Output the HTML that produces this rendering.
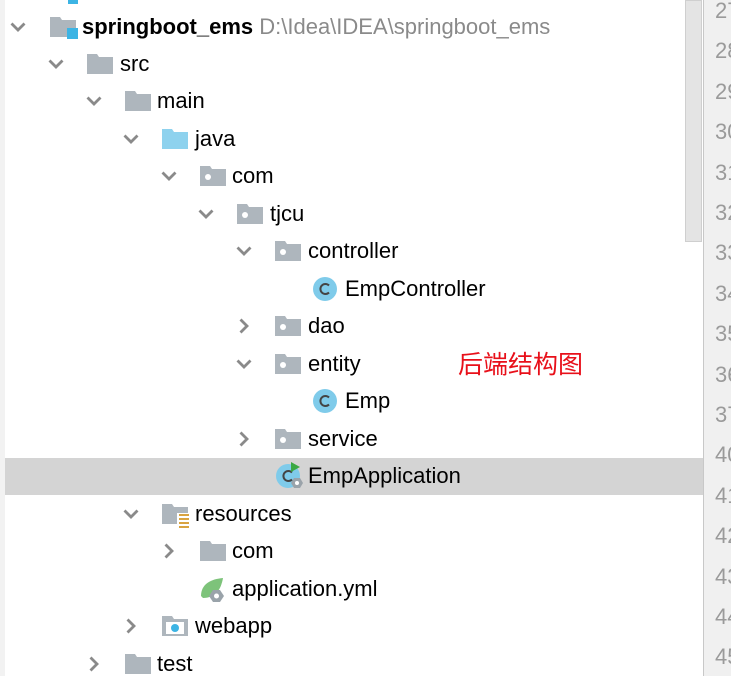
<!DOCTYPE html>
<html><head><meta charset="utf-8"><style>
body{margin:0;width:731px;height:676px;overflow:hidden;background:#fff;position:relative;font-family:"Liberation Sans","Noto Sans CJK SC",sans-serif;font-size:22px;color:#000}
.r{position:absolute;left:0;height:38px;line-height:38px;white-space:nowrap}
.t{position:absolute;top:0}
.ic{position:absolute;top:9px}
.ch{position:absolute;top:12px}
.g{position:absolute;left:703px;width:28px;top:0;height:676px;background:#f0f0f0;border-left:1px solid #c8c8c8}
.ln{position:absolute;left:715px;color:#9a9a9a;font-size:22px;line-height:22px}
</style></head><body>
<div style="position:absolute;left:0;top:0;width:5px;height:676px;background:#f2f2f2"></div>
<div style="position:absolute;left:68px;top:0;width:10px;height:4px;background:#3cb4e4"></div>
<div style="position:absolute;left:5px;top:458px;width:698px;height:37px;background:#d4d4d4"></div>
<div style="position:absolute;left:685px;top:0;width:17px;height:242px;background:#e4e4e4;border:1px solid #cfcfcf;box-sizing:border-box"></div>
<div class="g"></div>
<div class="ln" style="top:0px">27</div><div class="ln" style="top:40px">28</div><div class="ln" style="top:81px">29</div><div class="ln" style="top:121px">30</div><div class="ln" style="top:162px">31</div><div class="ln" style="top:202px">32</div><div class="ln" style="top:242px">33</div><div class="ln" style="top:283px">34</div><div class="ln" style="top:323px">35</div><div class="ln" style="top:364px">36</div><div class="ln" style="top:404px">37</div><div class="ln" style="top:444px">40</div><div class="ln" style="top:485px">41</div><div class="ln" style="top:525px">42</div><div class="ln" style="top:566px">43</div><div class="ln" style="top:606px">44</div><div class="ln" style="top:646px">45</div>

<svg width="0" height="0" style="position:absolute"><defs>
<symbol id="dn" viewBox="0 0 16 12"><polyline points="1.5,2.5 8,9 14.5,2.5" fill="none" stroke="#8a8a8a" stroke-width="2.8"/></symbol>
<symbol id="rt" viewBox="0 0 16 16"><polyline points="4.5,1.5 11,8 4.5,14.5" fill="none" stroke="#8a8a8a" stroke-width="2.8"/></symbol>
<symbol id="fd" viewBox="0 0 26 20"><path d="M0 0H10L12 3H26V20H0Z" fill="#aeb6bd"/></symbol>
<symbol id="jf" viewBox="0 0 26 20"><path d="M0 0H10L12 3H26V20H0Z" fill="#8ed2ee"/></symbol>
<symbol id="pk" viewBox="0 0 26 20"><path d="M0 0H10L12 3H26V20H0Z" fill="#aeb6bd"/><circle cx="8" cy="11" r="3" fill="#fff"/></symbol>
<symbol id="cl" viewBox="0 0 26 26"><circle cx="13" cy="13" r="12" fill="#7fcbea"/><path d="M17 9.5A5 5 0 1 0 17 16.5" fill="none" stroke="#444" stroke-width="2"/></symbol>
</defs></svg>

<div class="r" style="top:8px">
<svg class="ch" style="left:10px;top:13px" width="16" height="12"><use href="#dn"/></svg>
<svg class="ic" style="left:50px" width="30" height="22"><path d="M0 0H10L12 3H26V20H0Z" fill="#aeb6bd"/><rect x="17" y="11" width="11" height="11" fill="#3cb4e4"/></svg>
<span class="t" style="left:82px;font-weight:bold">springboot_ems <span style="font-weight:normal;color:#8a8a8a">D:\Idea\IDEA\springboot_ems</span></span></div>
<div class="r" style="top:45px"><svg class="ch" style="left:48px;top:13px" width="16" height="12"><use href="#dn"/></svg><svg class="ic" style="left:87px" width="26" height="20"><use href="#fd"/></svg><span class="t" style="left:120px">src</span></div>
<div class="r" style="top:82px"><svg class="ch" style="left:86px;top:13px" width="16" height="12"><use href="#dn"/></svg><svg class="ic" style="left:125px" width="26" height="20"><use href="#fd"/></svg><span class="t" style="left:157px">main</span></div>
<div class="r" style="top:120px"><svg class="ch" style="left:123px;top:13px" width="16" height="12"><use href="#dn"/></svg><svg class="ic" style="left:162px" width="26" height="20"><use href="#jf"/></svg><span class="t" style="left:195px">java</span></div>
<div class="r" style="top:157px"><svg class="ch" style="left:161px;top:13px" width="16" height="12"><use href="#dn"/></svg><svg class="ic" style="left:200px" width="26" height="20"><use href="#pk"/></svg><span class="t" style="left:232px">com</span></div>
<div class="r" style="top:195px"><svg class="ch" style="left:198px;top:13px" width="16" height="12"><use href="#dn"/></svg><svg class="ic" style="left:237px" width="26" height="20"><use href="#pk"/></svg><span class="t" style="left:270px">tjcu</span></div>
<div class="r" style="top:232px"><svg class="ch" style="left:236px;top:13px" width="16" height="12"><use href="#dn"/></svg><svg class="ic" style="left:275px" width="26" height="20"><use href="#pk"/></svg><span class="t" style="left:308px">controller</span></div>
<div class="r" style="top:270px"><svg class="ic" style="left:312px;top:6px" width="26" height="26"><use href="#cl"/></svg><span class="t" style="left:345px">EmpController</span></div>
<div class="r" style="top:307px"><svg class="ch" style="left:236px;top:11px" width="16" height="16"><use href="#rt"/></svg><svg class="ic" style="left:275px" width="26" height="20"><use href="#pk"/></svg><span class="t" style="left:308px">dao</span></div>
<div class="r" style="top:345px"><svg class="ch" style="left:236px;top:13px" width="16" height="12"><use href="#dn"/></svg><svg class="ic" style="left:275px" width="26" height="20"><use href="#pk"/></svg><span class="t" style="left:308px">entity</span><span class="t" style="left:458px;top:1px;color:#e8101a;font-size:25px">后端结构图</span></div>
<div class="r" style="top:382px"><svg class="ic" style="left:312px;top:6px" width="26" height="26"><use href="#cl"/></svg><span class="t" style="left:345px">Emp</span></div>
<div class="r" style="top:420px"><svg class="ch" style="left:236px;top:11px" width="16" height="16"><use href="#rt"/></svg><svg class="ic" style="left:275px" width="26" height="20"><use href="#pk"/></svg><span class="t" style="left:308px">service</span></div>
<div class="r" style="top:457px"><svg class="ic" style="left:275px;top:4px" width="30" height="30"><circle cx="13" cy="15" r="12" fill="#7fcbea"/><path d="M17 11.5A5 5 0 1 0 17 18.5" fill="none" stroke="#444" stroke-width="2"/><polygon points="16,1 16,11 25,6" fill="#3aa843"/><polygon points="19,17 25,17 28,22 25,27 19,27 16,22" fill="#9aa3aa"/><circle cx="22" cy="22" r="2" fill="#fff"/></svg><span class="t" style="left:308px">EmpApplication</span></div>
<div class="r" style="top:495px"><svg class="ch" style="left:123px;top:13px" width="16" height="12"><use href="#dn"/></svg><svg class="ic" style="left:162px" width="30" height="24"><path d="M0 0H10L12 3H26V20H0Z" fill="#aeb6bd"/><rect x="15" y="9" width="12" height="14" fill="#fff"/><g fill="#d9a441"><rect x="17" y="10" width="10" height="2"/><rect x="17" y="14" width="10" height="2"/><rect x="17" y="18" width="10" height="2"/><rect x="17" y="22" width="10" height="2"/></g></svg><span class="t" style="left:195px">resources</span></div>
<div class="r" style="top:532px"><svg class="ch" style="left:161px;top:11px" width="16" height="16"><use href="#rt"/></svg><svg class="ic" style="left:200px" width="26" height="20"><use href="#fd"/></svg><span class="t" style="left:232px">com</span></div>
<div class="r" style="top:570px"><svg class="ic" style="left:199px;top:6px" width="30" height="28"><path d="M2 20C2 8 12 3 24 2C22 14 16 22 4 22Z" fill="#7dc37a"/><polygon points="14,14 21,14 25,20 21,26 14,26 10,20" fill="#9aa3aa"/><circle cx="17.5" cy="20" r="2.5" fill="#fff"/></svg><span class="t" style="left:232px">application.yml</span></div>
<div class="r" style="top:607px"><svg class="ch" style="left:123px;top:11px" width="16" height="16"><use href="#rt"/></svg><svg class="ic" style="left:162px" width="26" height="22"><path d="M0 0H10L12 3H26V20H0Z" fill="#aeb6bd"/><rect x="4" y="6" width="18" height="12" fill="#fff"/><circle cx="13" cy="12" r="4" fill="#3cb4e4"/></svg><span class="t" style="left:195px">webapp</span></div>
<div class="r" style="top:645px"><svg class="ch" style="left:86px;top:11px" width="16" height="16"><use href="#rt"/></svg><svg class="ic" style="left:125px" width="26" height="20"><use href="#fd"/></svg><span class="t" style="left:157px">test</span></div>
</body></html>
